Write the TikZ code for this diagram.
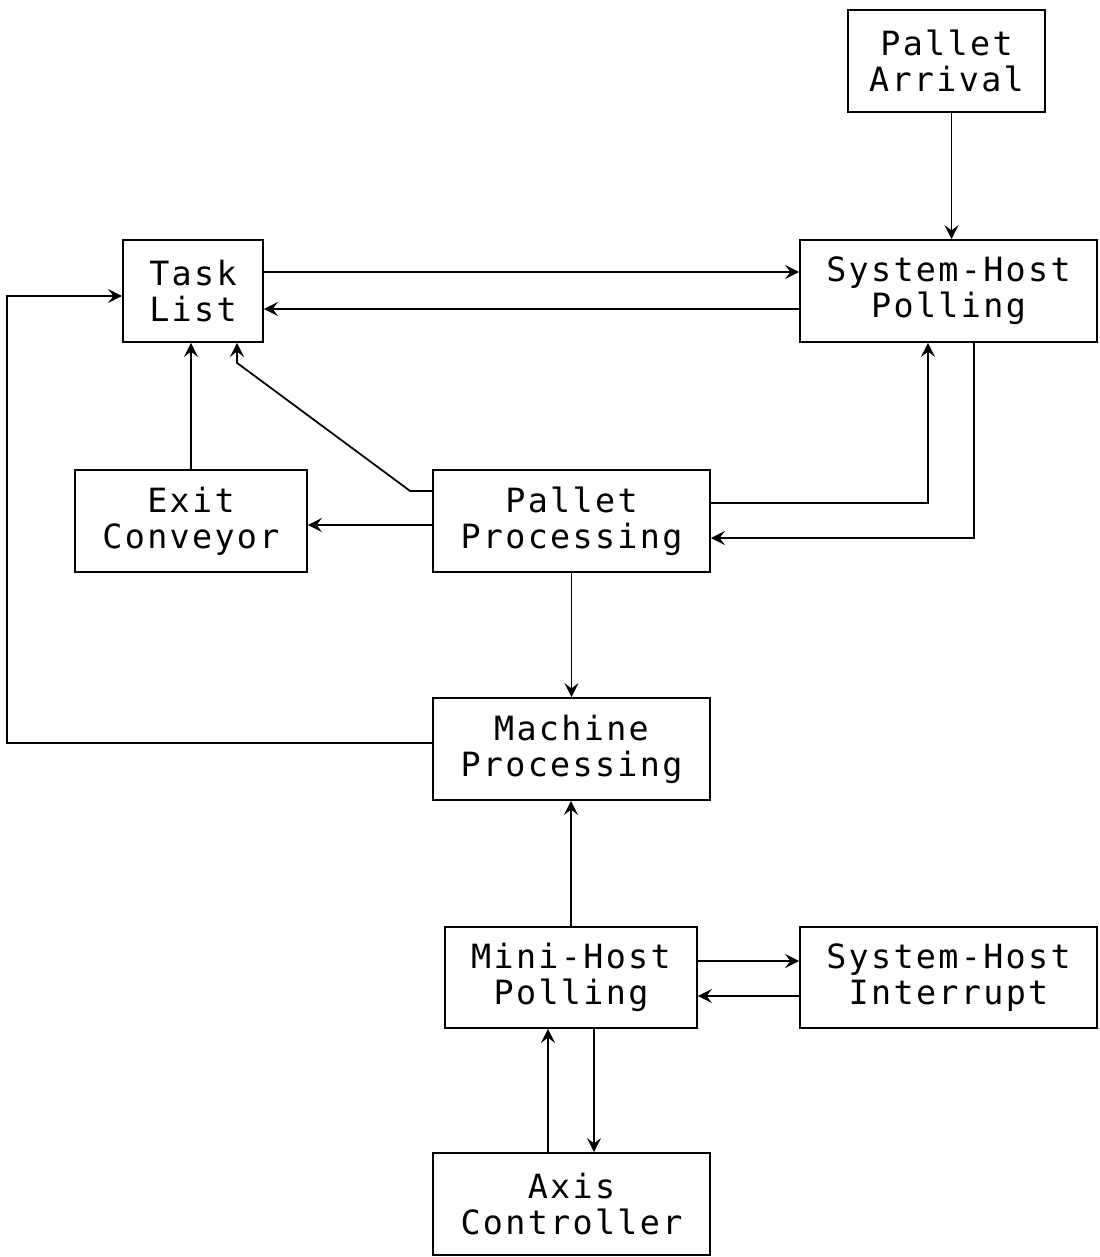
\documentclass[tikz,border=0pt]{standalone}
\usepackage{fontspec}
\setmonofont[LetterSpace=7]{DejaVu Sans Mono}
\usetikzlibrary{arrows.meta}
\begin{document}
\begin{tikzpicture}[x=0.02cm, y=-0.02cm, line width=1pt,
  box/.style={draw, rectangle, minimum height=2.04cm, align=center, inner sep=0pt,
    font=\ttfamily\fontsize{19}{20.5}\selectfont},
  flow/.style={-{Stealth[length=8pt,width=8pt,inset=3pt]}}]
\useasboundingbox (0,0) rectangle (1099,1257);
\node[box, minimum width=3.94cm] (arrival) at (946.5,61){Pallet\\Arrival};
\node[box, minimum width=2.8cm] (tasklist) at (193,291){Task\\List};
\node[box, minimum width=5.94cm] (shpoll) at (948.5,291){System-Host\\Polling};
\node[box, minimum width=4.64cm] (exitconv) at (191,521){Exit\\Conveyor};
\node[box, minimum width=5.54cm] (palletproc) at (571.5,521){Pallet\\Processing};
\node[box, minimum width=5.54cm] (machproc) at (571.5,749){Machine\\Processing};
\node[box, minimum width=5.04cm, minimum height=2.02cm] (minipoll) at (571,977.5){Mini-Host\\Polling};
\node[box, minimum width=5.94cm, minimum height=2.02cm] (shint) at (948.5,977.5){System-Host\\Interrupt};
\node[box, minimum width=5.54cm] (axisctl) at (571.5,1204){Axis\\Controller};
\draw[flow] ([xshift=.1cm]arrival.south) -- ([xshift=.1cm]arrival.south |- shpoll.north);
\draw[flow] ([yshift=.38cm]tasklist.east) -- ([yshift=.38cm]tasklist.east -| shpoll.west);
\draw[flow] ([yshift=-.36cm]shpoll.west) -- ([yshift=-.36cm]shpoll.west -| tasklist.east);
\draw[flow] ([yshift=.12cm]machproc.west) -| ([xshift=-2.3cm,yshift=-.1cm]tasklist.west) -- ([yshift=-.1cm]tasklist.west);
\draw[flow] (exitconv.north) -- (exitconv.north |- tasklist.south);
\draw[flow] ([yshift=.6cm]palletproc.west) -- ++(-.44cm,0) -- ([xshift=.88cm,yshift=-.4cm]tasklist.south) -- ([xshift=.88cm]tasklist.south);
\draw[flow] ([yshift=.36cm]palletproc.east) -| ([xshift=-.41cm]shpoll.south);
\draw[flow] ([xshift=.51cm]shpoll.south) |- ([yshift=-.34cm]palletproc.east);
\draw[flow] ([yshift=-.08cm]palletproc.west) -- ([yshift=-.08cm]palletproc.west -| exitconv.east);
\draw[flow] (palletproc.south) -- (machproc.north);
\draw[flow] (minipoll.north) -- (minipoll.north |- machproc.south);
\draw[flow] ([yshift=.33cm]minipoll.east) -- ([yshift=.33cm]minipoll.east -| shint.west);
\draw[flow] ([yshift=-.37cm]shint.west) -- ([yshift=-.37cm]shint.west -| minipoll.east);
\draw[flow] ([xshift=-.47cm]axisctl.north) -- ([xshift=-.47cm]axisctl.north |- minipoll.south);
\draw[flow] ([xshift=.46cm]minipoll.south) -- ([xshift=.46cm]minipoll.south |- axisctl.north);
\end{tikzpicture}
\end{document}
